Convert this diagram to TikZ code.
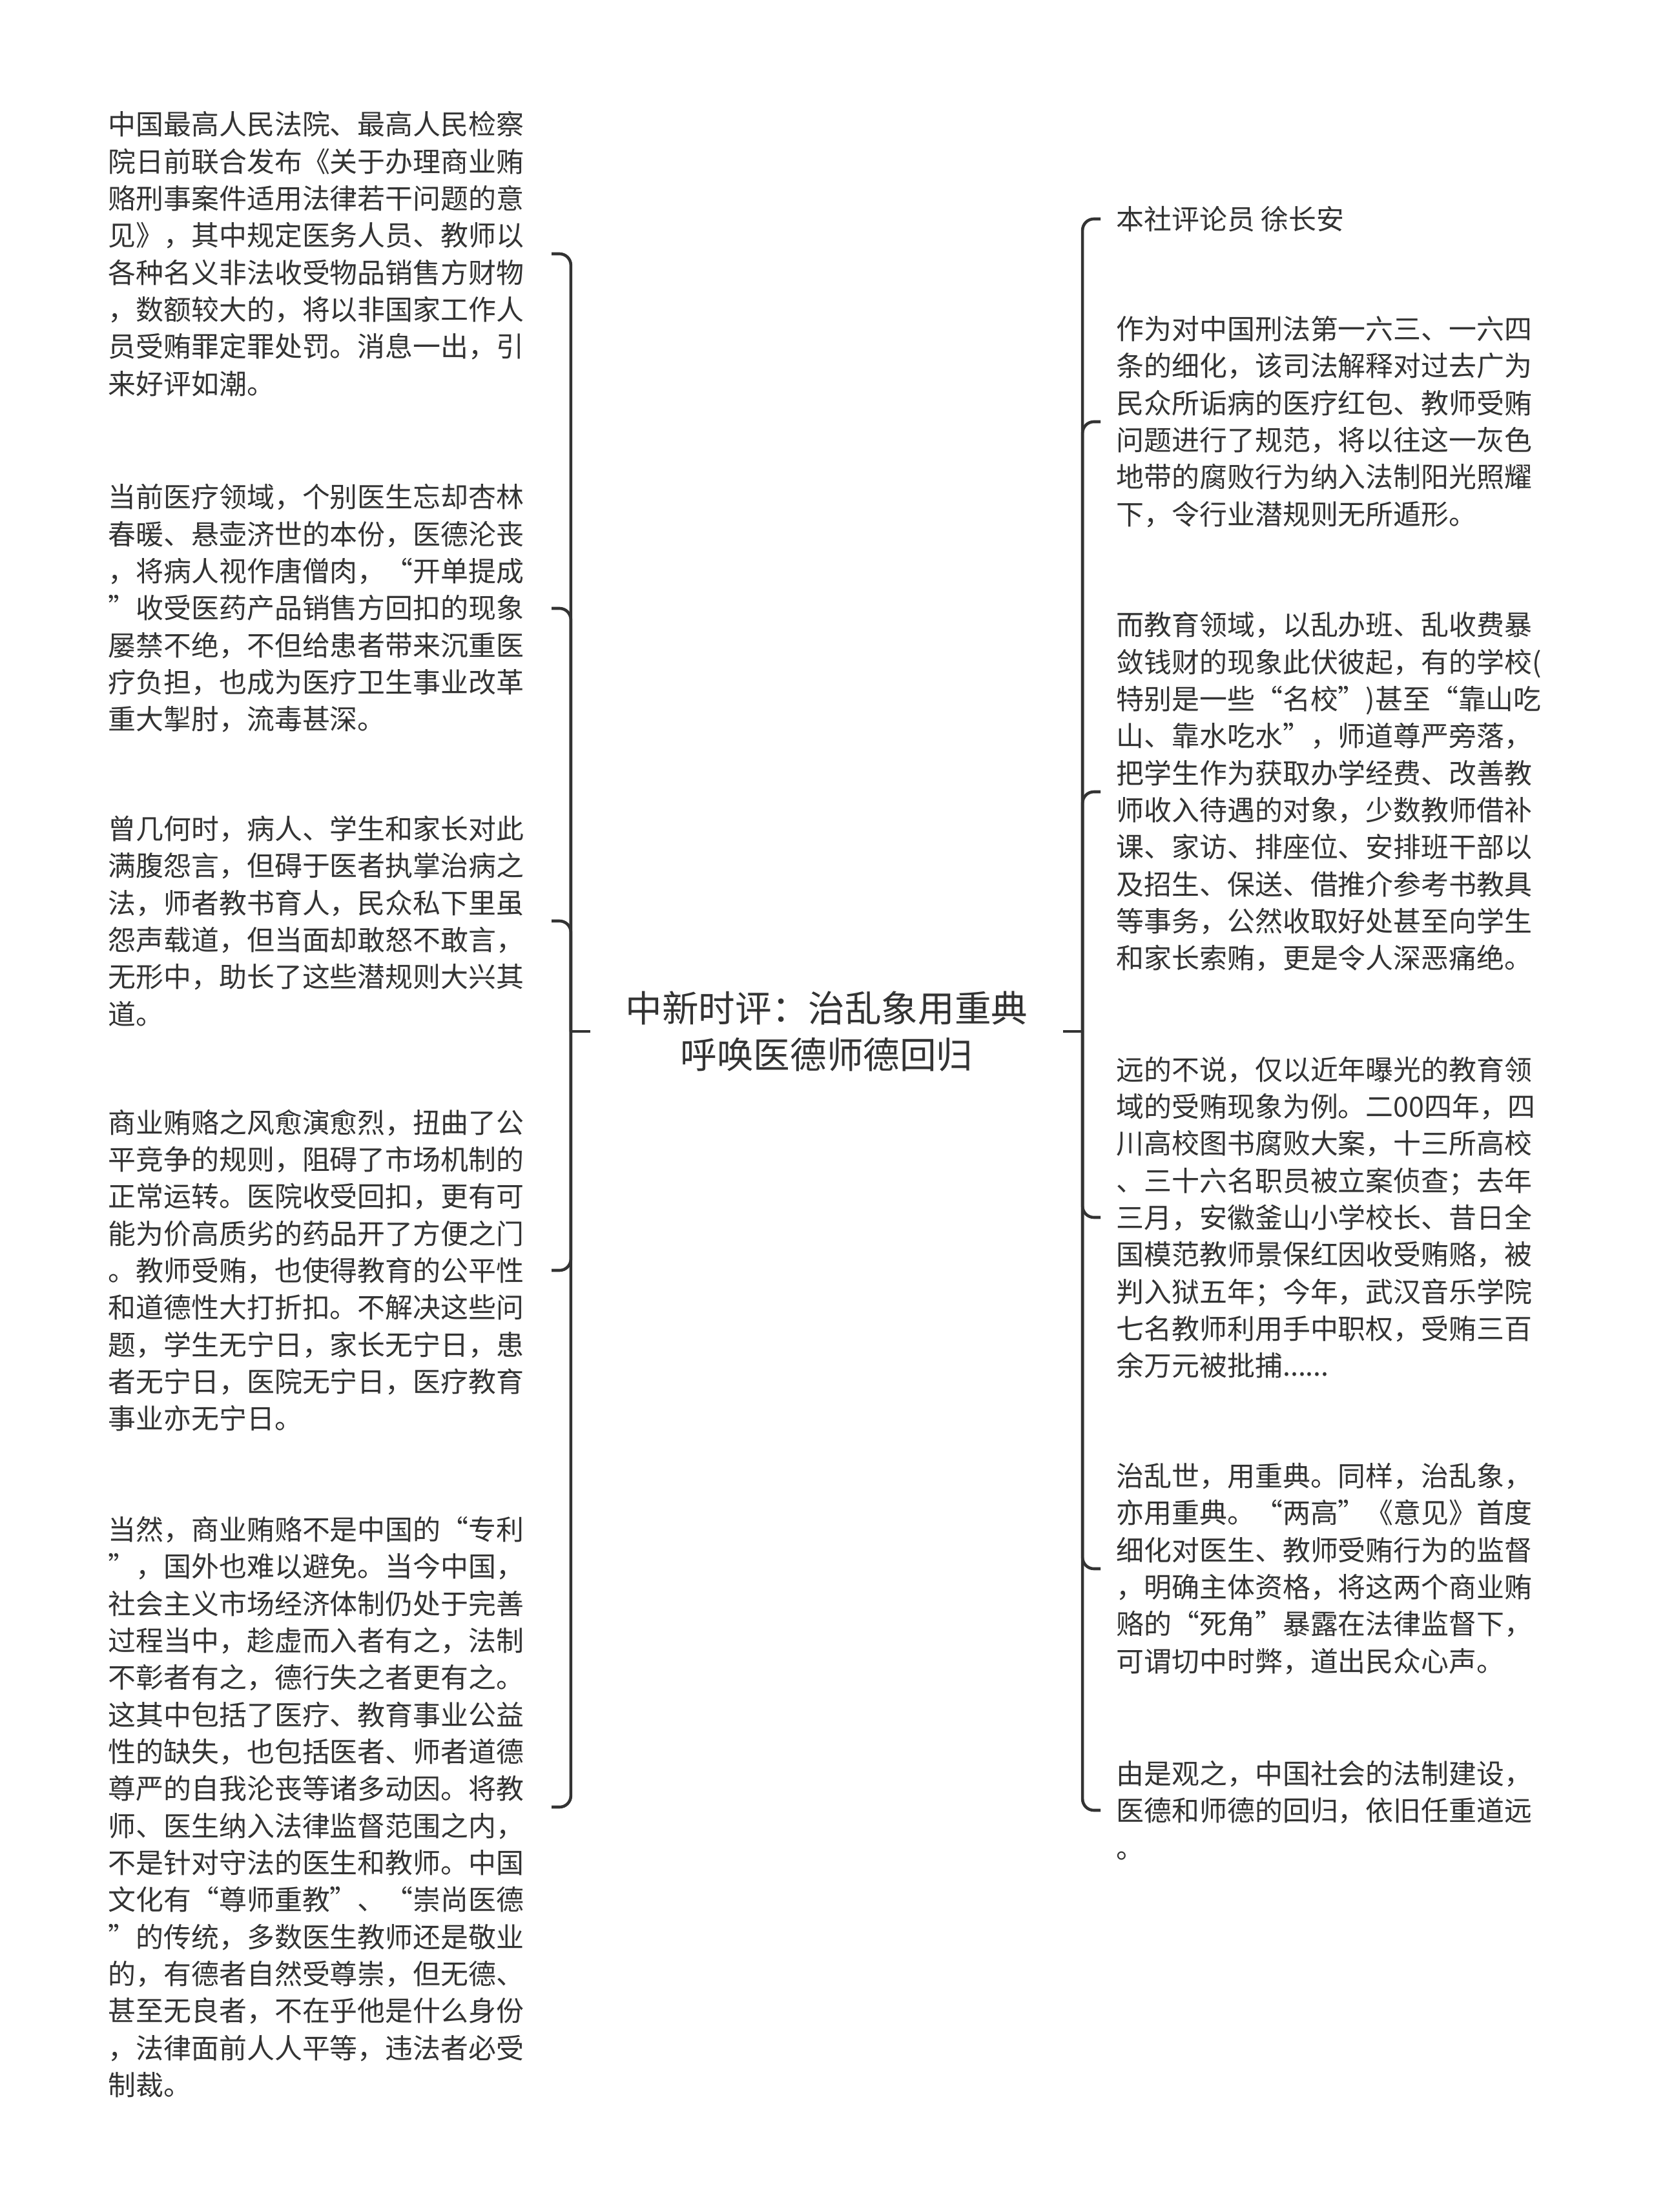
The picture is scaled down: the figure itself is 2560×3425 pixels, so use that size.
\documentclass[tikz,border=0pt]{standalone}
\usepackage{fontspec}
\newfontfamily\cjk{Noto Sans CJK SC}
\definecolor{ink}{HTML}{333333}

\tikzset{
  leaf/.style={font={\cjk\fontsize{12.2pt}{16.3pt}\selectfont}, text=ink, align=left, inner ysep=0pt},
  leafl/.style={leaf, anchor=east, inner xsep=0.42cm},
  leafr/.style={leaf, anchor=west, inner xsep=0.24cm},
  root/.style={font={\cjk\fontsize{16.1pt}{20.5pt}\selectfont}, text=ink, align=center, inner xsep=0.54cm},
  link/.style={draw=ink, line width=1.3pt, rounded corners=5pt},
}

\begin{document}
\begin{tikzpicture}[x=0.01cm, y=-0.01cm]

  \fill[white] (0,0) rectangle (2560,3425);
  \useasboundingbox (0,0) rectangle (2560,3425);

  % Root
  \node[root] (root) at (1280,1597) {中新时评：治乱象用重典\\呼唤医德师德回归};

  % Left side
  \node[leafl] (l1) at (854,393) {中国最高人民法院、最高人民检察\\
院日前联合发布《关于办理商业贿\\
赂刑事案件适用法律若干问题的意\\
见》，其中规定医务人员、教师以\\
各种名义非法收受物品销售方财物\\
，数额较大的，将以非国家工作人\\
员受贿罪定罪处罚。消息一出，引\\
来好评如潮。};
  \node[leafl] (l2) at (854,942) {当前医疗领域，个别医生忘却杏林\\
春暖、悬壶济世的本份，医德沦丧\\
，将病人视作唐僧肉，“开单提成\\
”收受医药产品销售方回扣的现象\\
屡禁不绝，不但给患者带来沉重医\\
疗负担，也成为医疗卫生事业改革\\
重大掣肘，流毒甚深。};
  \node[leafl] (l3) at (854,1426) {曾几何时，病人、学生和家长对此\\
满腹怨言，但碍于医者执掌治病之\\
法，师者教书育人，民众私下里虽\\
怨声载道，但当面却敢怒不敢言，\\
无形中，助长了这些潜规则大兴其\\
道。};
  \node[leafl] (l4) at (854,1967) {商业贿赂之风愈演愈烈，扭曲了公\\
平竞争的规则，阻碍了市场机制的\\
正常运转。医院收受回扣，更有可\\
能为价高质劣的药品开了方便之门\\
。教师受贿，也使得教育的公平性\\
和道德性大打折扣。不解决这些问\\
题，学生无宁日，家长无宁日，患\\
者无宁日，医院无宁日，医疗教育\\
事业亦无宁日。};
  \node[leafl] (l5) at (854,2798) {当然，商业贿赂不是中国的“专利\\
”，国外也难以避免。当今中国，\\
社会主义市场经济体制仍处于完善\\
过程当中，趁虚而入者有之，法制\\
不彰者有之，德行失之者更有之。\\
这其中包括了医疗、教育事业公益\\
性的缺失，也包括医者、师者道德\\
尊严的自我沦丧等诸多动因。将教\\
师、医生纳入法律监督范围之内，\\
不是针对守法的医生和教师。中国\\
文化有“尊师重教”、“崇尚医德\\
”的传统，多数医生教师还是敬业\\
的，有德者自然受尊崇，但无德、\\
甚至无良者，不在乎他是什么身份\\
，法律面前人人平等，违法者必受\\
制裁。};

  % Right side
  \node[leafr] (r1) at (1704,339) {本社评论员 徐长安};
  \node[leafr] (r2) at (1704,653) {作为对中国刑法第一六三、一六四\\
条的细化，该司法解释对过去广为\\
民众所诟病的医疗红包、教师受贿\\
问题进行了规范，将以往这一灰色\\
地带的腐败行为纳入法制阳光照耀\\
下，令行业潜规则无所遁形。};
  \node[leafr] (r3) at (1704,1226) {而教育领域，以乱办班、乱收费暴\\
敛钱财的现象此伏彼起，有的学校(\\
特别是一些“名校”)甚至“靠山吃\\
山、靠水吃水”，师道尊严旁落，\\
把学生作为获取办学经费、改善教\\
师收入待遇的对象，少数教师借补\\
课、家访、排座位、安排班干部以\\
及招生、保送、借推介参考书教具\\
等事务，公然收取好处甚至向学生\\
和家长索贿，更是令人深恶痛绝。};
  \node[leafr] (r4) at (1704,1885) {远的不说，仅以近年曝光的教育领\\
域的受贿现象为例。二00四年，四\\
川高校图书腐败大案，十三所高校\\
、三十六名职员被立案侦查；去年\\
三月，安徽釜山小学校长、昔日全\\
国模范教师景保红因收受贿赂，被\\
判入狱五年；今年，武汉音乐学院\\
七名教师利用手中职权，受贿三百\\
余万元被批捕......};
  \node[leafr] (r5) at (1704,2429) {治乱世，用重典。同样，治乱象，\\
亦用重典。“两高”《意见》首度\\
细化对医生、教师受贿行为的监督\\
，明确主体资格，将这两个商业贿\\
赂的“死角”暴露在法律监督下，\\
可谓切中时弊，道出民众心声。};
  \node[leafr] (r6) at (1704,2803) {由是观之，中国社会的法制建设，\\
医德和师德的回归，依旧任重道远\\
。};

  % Connectors
  \draw[link] (root.west) -- ++(-30,0) coordinate (lj);
  \draw[link] (root.east) -- ++(30,0) coordinate (rj);
  \foreach \n in {l1,l2,l3,l4,l5}
    \draw[link] (lj) |- (\n.east);
  \foreach \n in {r1,r2,r3,r4,r5,r6}
    \draw[link] (rj) |- (\n.west);

\end{tikzpicture}
\end{document}
